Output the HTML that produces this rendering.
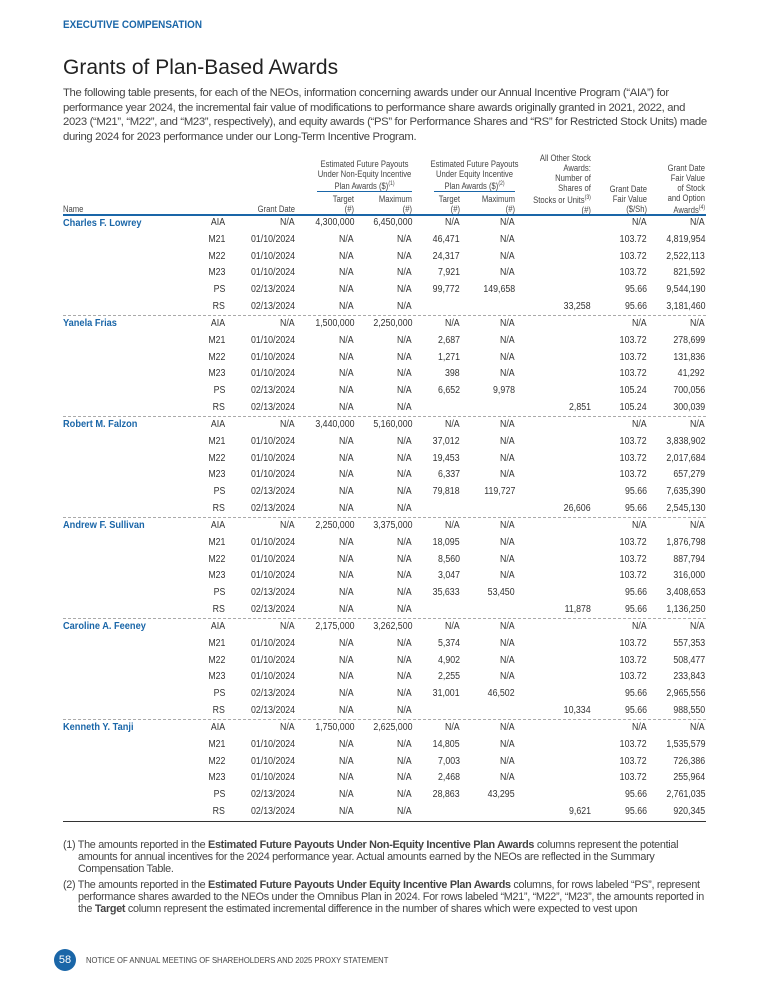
<!DOCTYPE html>
<html><head><meta charset="utf-8">
<style>
*{margin:0;padding:0;box-sizing:border-box}
body{width:768px;height:1000px;background:#fff;position:relative;overflow:hidden;font-family:"Liberation Sans",sans-serif;color:#333}
.abs{position:absolute;white-space:nowrap}
.nar{font-family:"Liberation Sans Narrow","Liberation Sans",sans-serif}
#sec{left:63px;top:19px;font-size:11px;font-weight:bold;color:#1a66a8;transform:scaleX(.9);transform-origin:left}
#title{left:63px;top:56px;font-size:21px;color:#222}
#intro{left:63px;top:86px;font-size:11.3px;line-height:14.6px;color:#444;letter-spacing:-0.34px}
.hd{font-size:9px;line-height:10px;color:#444;text-align:right;transform:scaleX(.85);transform-origin:right}
.cell{font-size:10px;line-height:12px;color:#333;text-align:right;transform:scaleX(.88);transform-origin:right}
.name{font-size:10.5px;font-weight:bold;color:#1a66a8;text-align:left;transform:scaleX(.88);transform-origin:left}
.fn{left:63px;width:650px;font-size:10.8px;line-height:12px;white-space:normal;color:#444;padding-left:15px;text-indent:-15px;letter-spacing:-0.3px}
</style></head>
<body>
<div class="abs nar" id="sec">EXECUTIVE COMPENSATION</div>
<div class="abs" id="title">Grants of Plan-Based Awards</div>
<div class="abs" id="intro">The following table presents, for each of the NEOs, information concerning awards under our Annual Incentive Program (“AIA”) for<br>performance year 2024, the incremental fair value of modifications to performance share awards originally granted in 2021, 2022, and<br>2023 (“M21”, “M22”, and “M23”, respectively), and equity awards (“PS” for Performance Shares and “RS” for Restricted Stock Units) made<br>during 2024 for 2023 performance under our Long-Term Incentive Program.</div>

<div id="table">
<div class="abs nar hd" style="left:302px;top:159px;width:125px;text-align:center;transform-origin:center">Estimated Future Payouts<br>Under Non-Equity Incentive<br>Plan Awards ($)<sup style="font-size:6px">(1)</sup></div>
<div class="abs" style="left:317px;top:191px;width:95px;height:1px;background:#1a66a8"></div>
<div class="abs nar hd" style="left:414px;top:159px;width:121px;text-align:center;transform-origin:center">Estimated Future Payouts<br>Under Equity Incentive<br>Plan Awards ($)<sup style="font-size:6px">(2)</sup></div>
<div class="abs" style="left:434px;top:191px;width:81px;height:1px;background:#1a66a8"></div>
<div class="abs nar hd" style="left:63px;top:204px;text-align:left;transform-origin:left">Name</div>
<div class="abs nar hd" style="right:473px;top:204px">Grant Date</div>
<div class="abs nar hd" style="right:414px;top:194px">Target<br>(#)</div>
<div class="abs nar hd" style="right:356px;top:194px">Maximum<br>(#)</div>
<div class="abs nar hd" style="right:308px;top:194px">Target<br>(#)</div>
<div class="abs nar hd" style="right:253px;top:194px">Maximum<br>(#)</div>
<div class="abs nar hd" style="right:177px;top:153px">All Other Stock<br>Awards:<br>Number of<br>Shares of<br>Stocks or Units<sup style="font-size:6px">(3)</sup><br>(#)</div>
<div class="abs nar hd" style="right:121px;top:184px">Grant Date<br>Fair Value<br>($/Sh)</div>
<div class="abs nar hd" style="right:63px;top:163px">Grant Date<br>Fair Value<br>of Stock<br>and Option<br>Awards<sup style="font-size:6px">(4)</sup></div>
<div class="abs" style="left:63px;top:214px;width:643px;height:2px;background:#1a66a8"></div>
<div id="rows"></div>
</div>

<div class="abs fn" style="top:839px">(1) The amounts reported in the <b>Estimated Future Payouts Under Non-Equity Incentive Plan Awards</b> columns represent the potential amounts for annual incentives for the 2024 performance year. Actual amounts earned by the NEOs are reflected in the Summary Compensation Table.</div>
<div class="abs fn" style="top:879px">(2) The amounts reported in the <b>Estimated Future Payouts Under Equity Incentive Plan Awards</b> columns, for rows labeled “PS”, represent performance shares awarded to the NEOs under the Omnibus Plan in 2024. For rows labeled “M21”, “M22”, “M23”, the amounts reported in the <b>Target</b> column represent the estimated incremental difference in the number of shares which were expected to vest upon</div>

<div class="abs" style="left:54px;top:949px;width:22px;height:22px;border-radius:50%;background:#1a66a8;color:#fff;font-size:11px;line-height:22px;text-align:center">58</div>
<div class="abs nar" style="left:86px;top:955px;font-size:8.5px;color:#444;transform:scaleX(.9);transform-origin:left">NOTICE OF ANNUAL MEETING OF SHAREHOLDERS AND 2025 PROXY STATEMENT</div>

<script>
const names=["Charles F. Lowrey","Yanela Frias","Robert M. Falzon","Andrew F. Sullivan","Caroline A. Feeney","Kenneth Y. Tanji"];
const codes=["AIA","M21","M22","M23","PS","RS"];
const dates=["N/A","01/10/2024","01/10/2024","01/10/2024","02/13/2024","02/13/2024"];
const nonEqTarget=["4,300,000","1,500,000","3,440,000","2,250,000","2,175,000","1,750,000"];
const nonEqMax=["6,450,000","2,250,000","5,160,000","3,375,000","3,262,500","2,625,000"];
const eqTarget=[["N/A","46,471","24,317","7,921","99,772",""],["N/A","2,687","1,271","398","6,652",""],["N/A","37,012","19,453","6,337","79,818",""],["N/A","18,095","8,560","3,047","35,633",""],["N/A","5,374","4,902","2,255","31,001",""],["N/A","14,805","7,003","2,468","28,863",""]];
const eqMax=[["N/A","N/A","N/A","N/A","149,658",""],["N/A","N/A","N/A","N/A","9,978",""],["N/A","N/A","N/A","N/A","119,727",""],["N/A","N/A","N/A","N/A","53,450",""],["N/A","N/A","N/A","N/A","46,502",""],["N/A","N/A","N/A","N/A","43,295",""]];
const otherStock=["33,258","2,851","26,606","11,878","10,334","9,621"];
const fairPerShare=[["N/A","103.72","103.72","103.72","95.66","95.66"],["N/A","103.72","103.72","103.72","105.24","105.24"],["N/A","103.72","103.72","103.72","95.66","95.66"],["N/A","103.72","103.72","103.72","95.66","95.66"],["N/A","103.72","103.72","103.72","95.66","95.66"],["N/A","103.72","103.72","103.72","95.66","95.66"]];
const fairValue=[["N/A","4,819,954","2,522,113","821,592","9,544,190","3,181,460"],["N/A","278,699","131,836","41,292","700,056","300,039"],["N/A","3,838,902","2,017,684","657,279","7,635,390","2,545,130"],["N/A","1,876,798","887,794","316,000","3,408,653","1,136,250"],["N/A","557,353","508,477","233,843","2,965,556","988,550"],["N/A","1,535,579","726,386","255,964","2,761,035","920,345"]];

const rowsEl=document.getElementById('rows');
const top0=217, pitch=16.83;
const rights=[225,295,354,412,460,515,591,647,705];
function cell(txt,right,y,nm){
  const d=document.createElement('div');
  d.className='abs nar cell';
  d.style.right=(768-right)+'px';d.style.top=y+'px';
  d.textContent=txt;
  
  
  rowsEl.appendChild(d);
}
names.forEach((n,p)=>{
  codes.forEach((c,r)=>{
    const y=top0+(p*6+r)*pitch;
    if(r===0){
      const nd=document.createElement('div');
      nd.className='abs nar name';
      nd.style.left='63px';nd.style.top=(y-0.5)+'px';
      nd.textContent=n;
      
      
      rowsEl.appendChild(nd);
    }
    cell(c,rights[0],y,'award-code');
    cell(dates[r],rights[1],y,'grant-date');
    cell(r===0?nonEqTarget[p]:"N/A",rights[2],y,'non-equity-target');
    cell(r===0?nonEqMax[p]:"N/A",rights[3],y,'non-equity-maximum');
    cell(eqTarget[p][r],rights[4],y,'equity-target');
    cell(eqMax[p][r],rights[5],y,'equity-maximum');
    cell(r===5?otherStock[p]:"",rights[6],y,'other-stock-awards');
    cell(fairPerShare[p][r],rights[7],y,'grant-fair-value-per-share');
    cell(fairValue[p][r],rights[8],y,'grant-date-fair-value');
  });
  if(p<names.length-1){
    const s=document.createElement('div');
    s.className='abs';
    s.style.cssText='left:63px;width:643px;height:0;border-top:1px dashed #aaa;top:'+(top0+(p*6+5)*pitch+14)+'px';
    
    
    rowsEl.appendChild(s);
  }
});
const b=document.createElement('div');
b.className='abs';
b.style.cssText='left:63px;width:643px;height:1px;background:#333;top:'+(top0+35*pitch+15)+'px';


rowsEl.appendChild(b);
</script>
</body></html>
